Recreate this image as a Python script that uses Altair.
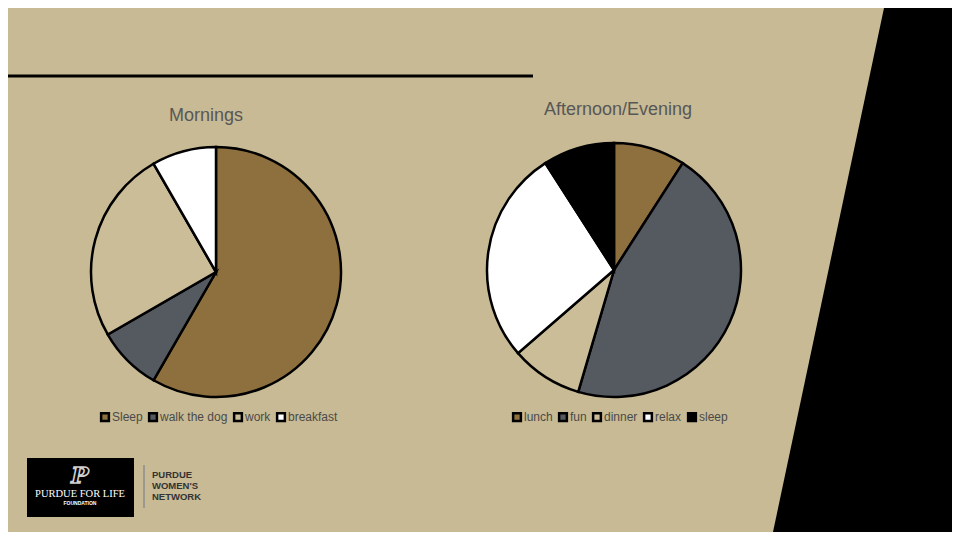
import altair as alt
import pandas as pd

# ---- colours ----
BG = "#C8BA94"
BROWN = "#8E6F3E"
GRAY = "#555960"
BEIGE = "#CBBD97"
WHITE = "#FFFFFF"
BLACK = "#000000"

# ---- data ----
morning_labels = ["Sleep", "walk the dog", "work", "breakfast"]
morning_values = [7, 1, 3, 1]
morning_colors = [BROWN, GRAY, BEIGE, WHITE]

evening_labels = ["lunch", "fun", "dinner", "relax", "sleep"]
evening_values = [1, 5, 1, 3, 1]
evening_colors = [BROWN, GRAY, BEIGE, WHITE, BLACK]

titles = ["Mornings", "Afternoon/Evening"]
logo_lines = ["PURDUE", "WOMEN'S", "NETWORK"]

W, H = 944, 524


def pie(labels, values, colors, cx, cy, r, lx, ly):
    df = pd.DataFrame({"activity": labels, "value": values,
                       "idx": list(range(len(labels)))})
    return alt.Chart(df).mark_arc(radius=r, stroke="black", strokeWidth=2.5).encode(
        theta=alt.Theta("value:Q", stack=True),
        color=alt.Color(
            "activity:N",
            scale=alt.Scale(domain=labels, range=colors),
            legend=alt.Legend(
                orient="none", legendX=lx, legendY=ly, direction="horizontal",
                title=None, symbolType="square", symbolSize=60,
                symbolStrokeColor="black", symbolStrokeWidth=2.5,
                labelFont="Liberation Sans", labelFontSize=12,
                labelColor="#4a4a4a", labelOffset=1, columnPadding=1,
            ),
        ),
        order=alt.Order("idx:Q"),
        x=alt.value(cx),
        y=alt.value(cy),
    )


left = pie(morning_labels, morning_values, morning_colors, 208, 264, 125, 91, 403)
right = pie(evening_labels, evening_values, evening_colors, 606, 262, 127, 503, 403)

# black slanted panel on the right
poly = pd.DataFrame({"y": [0, H], "x": [876, 765], "x2": [W, W]})
panel = alt.Chart(poly).mark_area(color="black", orient="horizontal").encode(
    y=alt.Y("y:Q", scale=None, axis=None),
    x=alt.X("x:Q", scale=None, axis=None),
    x2="x2:Q",
)

rule = alt.Chart(pd.DataFrame({"a": [0]})).mark_rule(color="black", strokeWidth=3).encode(
    x=alt.value(0), x2=alt.value(525), y=alt.value(68)
)

t1 = alt.Chart(pd.DataFrame({"a": [0]})).mark_text(
    text=titles[0], font="Liberation Sans", fontSize=18, color="#575757"
).encode(x=alt.value(198), y=alt.value(108))
t2 = alt.Chart(pd.DataFrame({"a": [0]})).mark_text(
    text=titles[1], font="Liberation Sans", fontSize=18, color="#575757"
).encode(x=alt.value(610), y=alt.value(102))

# logo
logo_box = alt.Chart(pd.DataFrame({"a": [0]})).mark_rect(color="black").encode(
    x=alt.value(19), x2=alt.value(126), y=alt.value(450), y2=alt.value(509)
)
logo_p = alt.Chart(pd.DataFrame({"a": [0]})).mark_text(
    text="P", font="DejaVu Serif", fontSize=23, fontWeight="bold", fontStyle="italic",
    color="black", stroke="#D0D0D0", strokeWidth=1.6, baseline="middle"
).encode(x=alt.value(72), y=alt.value(468))
logo_t1 = alt.Chart(pd.DataFrame({"a": [0]})).mark_text(
    text="PURDUE FOR LIFE", font="Liberation Serif", fontSize=10.5, color="white",
    baseline="middle"
).encode(x=alt.value(72), y=alt.value(486))
logo_t2 = alt.Chart(pd.DataFrame({"a": [0]})).mark_text(
    text="FOUNDATION", font="Liberation Sans", fontSize=5, fontWeight="bold", color="white",
    baseline="middle"
).encode(x=alt.value(72), y=alt.value(495))
logo_sep = alt.Chart(pd.DataFrame({"a": [0]})).mark_rule(color="#8C8C8C", strokeWidth=1.5).encode(
    x=alt.value(136), y=alt.value(457), y2=alt.value(500)
)
logo_lines_layers = [
    alt.Chart(pd.DataFrame({"a": [0]})).mark_text(
        text=s, font="Liberation Sans", fontSize=9.5, fontWeight="bold",
        color="#333333", align="left", baseline="middle"
    ).encode(x=alt.value(144), y=alt.value(467 + 11 * i))
    for i, s in enumerate(logo_lines)
]

chart = alt.layer(
    panel, rule, t1, t2, left, right, logo_box, logo_p, logo_t1, logo_t2, logo_sep,
    *logo_lines_layers
).resolve_scale(
    color="independent", theta="independent"
).properties(
    width=W, height=H, padding=0, autosize="none", background=BG
).configure_view(stroke=None)

chart.save("out.html", embed_options={"renderer": "svg", "actions": False})
